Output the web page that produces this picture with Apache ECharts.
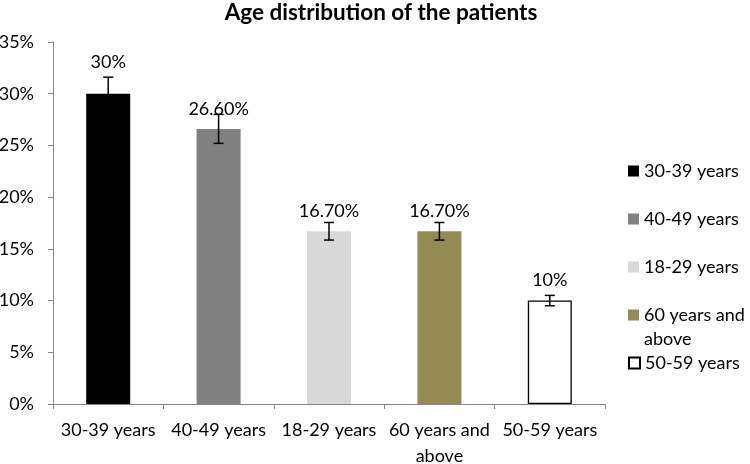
<!DOCTYPE html>
<html>
<head>
<meta charset="utf-8">
<script src="https://cdn.jsdelivr.net/npm/echarts@6/dist/echarts.min.js"></script>
<style>html,body{margin:0;padding:0;background:#fff}#c{width:750px;height:464px}</style>
</head>
<body>
<div id="c"></div>
<script>
var titleText = 'Age distribution of the patients';
var categories = ['30-39 years', '40-49 years', '18-29 years', '60 years and above', '50-59 years'];
var values = [30, 26.6, 16.7, 16.7, 10];
var errors = [1.6, 1.4, 0.85, 0.85, 0.5];
var valueLabels = ['30%', '26.60%', '16.70%', '16.70%', '10%'];
var colors = ['#000000', '#808080', '#d9d9d9', '#948a54', '#ffffff'];
var yTicks = [0, 5, 10, 15, 20, 25, 30, 35];

var FONT = 'Lato';
var chart = echarts.init(document.getElementById('c'), null, {renderer: 'canvas'});

var barSeries = categories.map(function (name, i) {
  var data = categories.map(function (c, j) { return j === i ? values[i] : '-'; });
  return {
    name: name,
    type: 'bar',
    stack: 'all',
    barWidth: 44,
    data: data,
    itemStyle: {color: colors[i], borderColor: i === 4 ? '#000000' : colors[i], borderWidth: i === 4 ? 1.3 : 0},
    label: {
      show: true, position: 'top', distance: i === 0 ? 23 : 11,
      color: '#000', fontFamily: FONT, fontSize: 18,
      formatter: function () { return valueLabels[i]; }
    }
  };
});

var errData = categories.map(function (c, i) { return [i, values[i] - errors[i], values[i] + errors[i]]; });

function legendItem(name, top, text, icon) {
  return {
    data: [name], left: 628, top: top, orient: 'vertical',
    itemWidth: 11, itemHeight: 11, icon: icon, selectedMode: false,
    padding: 0,
    formatter: function () { return text; },
    textStyle: {color: '#000', fontFamily: FONT, fontSize: 18, lineHeight: 24}
  };
}
var legends = [
  legendItem(categories[0], 159, '30-39 years', 'rect'),
  legendItem(categories[1], 207, '40-49 years', 'rect'),
  legendItem(categories[2], 255, '18-29 years', 'rect'),
  legendItem(categories[3], 303, '60 years and', 'rect'),
  legendItem(categories[3], 327, 'above', 'none'),
  legendItem(categories[4], 351, '50-59 years', 'rect')
];

chart.setOption({
  animation: false,
  title: {
    text: titleText, left: 381, top: 1, textAlign: 'center', padding: 0,
    textStyle: {fontFamily: FONT, fontWeight: 'bold', fontSize: 22.5, color: '#000'}
  },
  legend: legends,
  grid: {left: 53, right: 145, top: 42, bottom: 60, containLabel: false, outerBoundsMode: 'none'},
  xAxis: {
    type: 'category', data: categories,
    axisLine: {lineStyle: {color: '#868686', width: 1}},
    axisTick: {show: true, length: 5, lineStyle: {color: '#868686'}},
    axisLabel: {
      color: '#000', fontFamily: FONT, fontSize: 18, lineHeight: 26, margin: 13, interval: 0,
      formatter: function (v) { return v.replace(' and above', ' and\nabove'); }
    }
  },
  yAxis: {
    type: 'value', min: yTicks[0], max: yTicks[yTicks.length - 1], interval: 5,
    axisLine: {show: true, lineStyle: {color: '#868686', width: 1}},
    axisTick: {show: true, length: 5, lineStyle: {color: '#868686'}},
    splitLine: {show: false},
    axisLabel: {color: '#000', fontFamily: FONT, fontSize: 18, margin: 19, formatter: '{value}%'}
  },
  series: barSeries.concat([{
    type: 'custom',
    name: 'error',
    z: 10,
    encode: {x: 0, y: [1, 2]},
    data: errData,
    renderItem: function (params, api) {
      var x = api.value(0);
      var lo = api.coord([x, api.value(1)]);
      var hi = api.coord([x, api.value(2)]);
      var hw = 5;
      var st = {stroke: '#000', lineWidth: 1.5};
      return {
        type: 'group',
        children: [
          {type: 'line', shape: {x1: lo[0], y1: lo[1], x2: hi[0], y2: hi[1]}, style: st},
          {type: 'line', shape: {x1: lo[0] - hw, y1: lo[1], x2: lo[0] + hw, y2: lo[1]}, style: st},
          {type: 'line', shape: {x1: hi[0] - hw, y1: hi[1], x2: hi[0] + hw, y2: hi[1]}, style: st}
        ]
      };
    }
  }])
});
</script>
</body>
</html>
